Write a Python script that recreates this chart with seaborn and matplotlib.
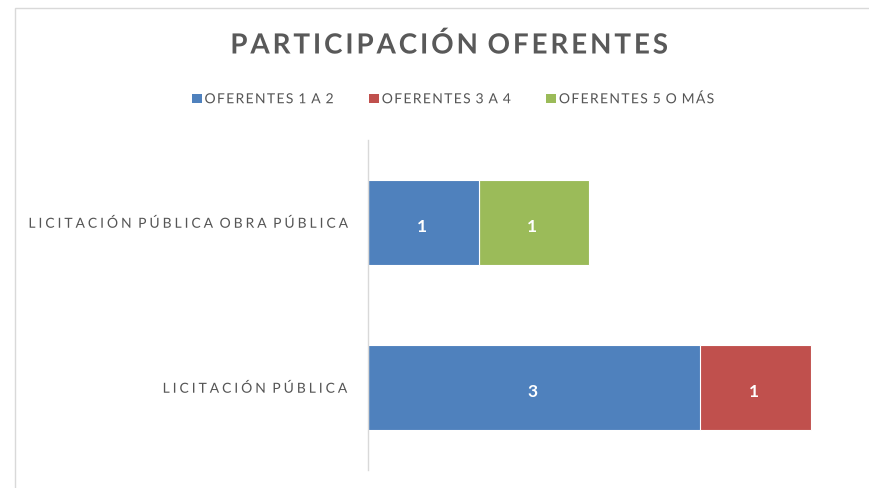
import matplotlib
matplotlib.use("Agg")
import matplotlib.pyplot as plt
import seaborn as sns
import pandas as pd
import numpy as np
from matplotlib.patches import Patch, Rectangle
from matplotlib.patheffects import AbstractPathEffect
from matplotlib.path import Path

categories = ["LICITACIÓN PÚBLICA OBRA PÚBLICA", "LICITACIÓN PÚBLICA"]
series_names = ["OFERENTES 1 A 2", "OFERENTES 3 A 4", "OFERENTES 5 O MÁS"]
oferentes_1_2 = [1, 3]
oferentes_3_4 = [0, 1]
oferentes_5_mas = [1, 0]
title = "PARTICIPACIÓN OFERENTES"

colors = ["#4F81BD", "#C0504D", "#9BBB59"]
series_values = [oferentes_1_2, oferentes_3_4, oferentes_5_mas]


class Tracking(AbstractPathEffect):
    """Render text with extra letter spacing (in pixels)."""

    def __init__(self, track_px, align="left"):
        super().__init__()
        self.track_px = track_px
        self.align = align

    def draw_path(self, renderer, gc, tpath, affine, rgbFace=None):
        verts = np.array(tpath.vertices, dtype=float)
        codes = tpath.codes
        if codes is None or len(verts) == 0:
            renderer.draw_path(gc, tpath, affine, rgbFace)
            return
        starts = np.where(codes == Path.MOVETO)[0]
        ends = list(starts[1:]) + [len(verts)]
        subs = []
        for s, e in zip(starts, ends):
            cs = codes[s:e]
            xs = verts[s:e, 0][cs != Path.CLOSEPOLY]
            subs.append((s, e, xs.min(), xs.max()))
        order = sorted(range(len(subs)), key=lambda k: subs[k][2])
        scale = affine.get_matrix()[0, 0]
        tu = self.track_px / scale if scale else 0
        g = -1
        gmax = -np.inf
        for k in order:
            s, e, xmin, xmax = subs[k]
            if (xmin + xmax) / 2 > gmax:
                g += 1
                gmax = xmax
            else:
                gmax = max(gmax, xmax)
            verts[s:e, 0] += g * tu
        extra = max(g, 0) * tu
        if self.align == "right":
            verts[:, 0] -= extra
        elif self.align == "center":
            verts[:, 0] -= extra / 2
        renderer.draw_path(gc, Path(verts, codes), affine, rgbFace)


sns.set_theme(style="white")
plt.rcParams["font.family"] = ["Lato", "DejaVu Sans"]

fig = plt.figure(figsize=(8.69, 4.88), dpi=100)
ax = fig.add_axes([368 / 869, 1 - 470 / 488, 1 - 368 / 869, (470 - 140) / 488])

vals = np.array(series_values, dtype=float)
cum = np.cumsum(vals, axis=0)

# draw back-to-front so stacked segments appear
for i in reversed(range(len(series_names))):
    df = pd.DataFrame({"cat": categories, "val": cum[i]})
    sns.barplot(data=df, y="cat", x="val", order=categories, color=colors[i],
                saturation=1, width=0.52, edgecolor="white", linewidth=0.8, ax=ax)

for i in range(len(series_names)):
    for j, cat in enumerate(categories):
        v = vals[i, j]
        if v > 0:
            ax.text(cum[i, j] - v / 2 - 0.015, j + 0.03, f"{int(v)}", ha="center", va="center",
                    color="white", fontsize=12.5, fontweight="bold")

ax.set_xlim(0, 501 / 110.7)
ax.set_ylim(1.5, -0.5)
ax.set_xlabel("")
ax.set_ylabel("")
ax.set_xticks([])
ax.tick_params(axis="y", length=0, pad=15.9, labelsize=10, labelcolor="#555555")
for s in ["top", "right", "bottom"]:
    ax.spines[s].set_visible(False)
ax.spines["left"].set_color("#D9D9D9")
ax.spines["left"].set_linewidth(1)

fig.text(0.517, 1 - 45 / 488, title, ha="center", va="center", fontsize=20,
         fontweight="bold", color="#595959",
         path_effects=[Tracking(2.9, "center")])

handles = [Patch(facecolor=c, edgecolor="none", label=n) for c, n in zip(colors, series_names)]
fs = 10
leg = fig.legend(handles=handles, loc="center left",
                 bbox_to_anchor=((192 - 0.9 * fs * 100 / 72) / 869, 1 - 99 / 488), ncol=3,
                 frameon=False, fontsize=fs, handlelength=0.7, handleheight=0.7,
                 handletextpad=0.2, columnspacing=3.7, labelcolor="#555555")
for t in leg.get_texts():
    t.set_path_effects([Tracking(1.35, "left")])

fig.patches.append(Rectangle((15 / 869, -0.1), 1.2, 1 - 8 / 488 + 0.1, transform=fig.transFigure,
                             fill=False, edgecolor="#D9D9D9", linewidth=1, zorder=-1))

fig.canvas.draw()
for lab in ax.get_yticklabels():
    lab.set_path_effects([Tracking(2.95, "right")])

fig.savefig("out.png", dpi=100)
